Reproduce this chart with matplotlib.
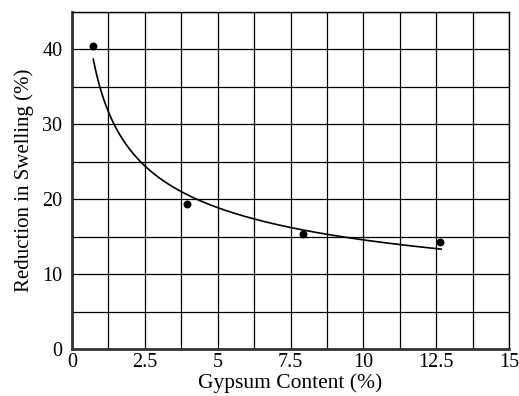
import numpy as np
import matplotlib
matplotlib.use("Agg")
import matplotlib.pyplot as plt
from matplotlib.ticker import MultipleLocator

gypsum = [0.71, 3.94, 7.94, 12.63]
reduction = [40.4, 19.3, 15.35, 14.3]

x_ticks = [0, 2.5, 5, 7.5, 10, 12.5, 15]
x_labels = ["0", "2.5", "5", "7.5", "10", "12.5", "15"]
y_ticks = [0, 10, 20, 30, 40]

plt.rcParams['font.family'] = ['Liberation Serif', 'DejaVu Serif']

fig = plt.figure(figsize=(5.19, 3.96), dpi=100)
ax = fig.add_axes([72 / 519, 47 / 396, 437 / 519, 337 / 396])

# power-law trend line fitted to the measured points
b, ln_a = np.polyfit(np.log(gypsum), np.log(reduction), 1)
xs = np.linspace(0.73, 12.67, 200)
ax.plot(xs, np.exp(ln_a) * xs ** b, color='black', lw=1.2)

ax.scatter(gypsum, reduction, s=22, color='black', zorder=3)

ax.set_xlim(0, 15)
ax.set_ylim(0, 45)
ax.xaxis.set_minor_locator(MultipleLocator(1.25))
ax.yaxis.set_minor_locator(MultipleLocator(5))
ax.set_xticks(x_ticks)
ax.set_xticklabels(x_labels)
ax.set_yticks(y_ticks)
ax.grid(True, which='both', color='black', lw=0.9)
ax.tick_params(which='both', length=0, labelsize=14.5)
ax.tick_params(axis='x', pad=3)
ax.tick_params(axis='y', pad=7)

for side in ['left', 'bottom']:
    ax.spines[side].set_linewidth(2)
    ax.spines[side].set_color('#333333')
for side in ['top', 'right']:
    ax.spines[side].set_linewidth(1)

ax.set_xlabel('Gypsum Content (%)', fontsize=15.5, labelpad=1)
ax.set_ylabel('Reduction in Swelling (%)', fontsize=15, labelpad=6)

fig.savefig('out.png', dpi=100)
